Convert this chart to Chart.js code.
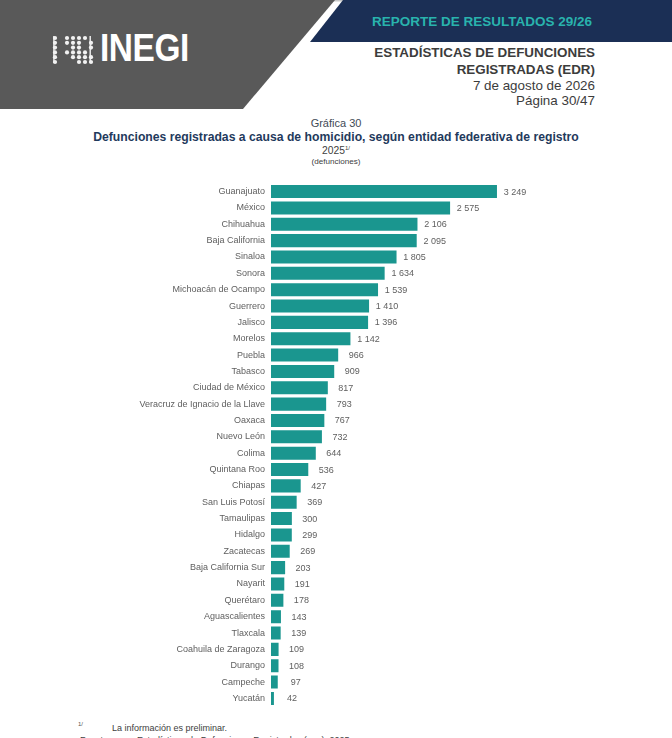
<!DOCTYPE html>
<html lang="es">
<head>
<meta charset="utf-8">
<title>Gráfica 30 - Defunciones por homicidio</title>
<script src="https://cdn.jsdelivr.net/npm/chart.js@4.4.0/dist/chart.umd.min.js"></script>
<style>
  html, body { margin: 0; padding: 0; background: #fff; }
  body { width: 672px; height: 738px; position: relative; overflow: hidden;
         font-family: "Liberation Sans", Arial, sans-serif; }
  .abs { position: absolute; white-space: nowrap; }
  #head-svg { position: absolute; left: 0; top: 0; }
  .right-txt { right: 77px; text-align: right; color: #3c3c3c; font-size: 13.4px; line-height: 16px; }
  .center { left: 0; width: 672px; text-align: center; }
  .sup { font-size: 6px; position: relative; top: -4px; }
  #chartBox { position: absolute; left: 0; top: 172px; width: 672px; height: 546px; }
</style>
</head>
<body>

<!-- page header: grey block, navy banner, logo -->
<svg id="head-svg" width="672" height="112" viewBox="0 0 672 112">
  <rect x="0" y="0" width="672" height="1.5" fill="#c8c8c8"/>
  <polygon points="0,0 335,0 243,109 0,109" fill="#595959"/>
  <polygon points="343,0 672,0 672,42 310,42" fill="#1b2f55"/>
  <g fill="#f2f2f2" id="logo-dots"></g>
</svg>

<div class="abs" style="left:100px; top:27px; font-size:38px; font-weight:bold; color:#fff;
     letter-spacing:-0.5px; transform:scaleX(0.88); transform-origin:left top;">INEGI</div>

<div class="abs" style="left:372px; top:14px; font-size:13.5px; font-weight:bold; color:#29b3ad;">REPORTE DE RESULTADOS 29/26</div>

<div class="abs right-txt" style="top:45px; font-weight:bold;">ESTADÍSTICAS DE DEFUNCIONES</div>
<div class="abs right-txt" style="top:62px; font-weight:bold;">REGISTRADAS (EDR)</div>
<div class="abs right-txt" style="top:78px;">7 de agosto de 2026</div>
<div class="abs right-txt" style="top:93px;">Página 30/47</div>

<!-- chart titles -->
<div class="abs center" style="top:117px; font-size:11px; color:#3f4a56;">Gráfica 30</div>
<div class="abs center" style="top:130px; font-size:12.2px; font-weight:bold; color:#1f3a5c;">Defunciones registradas a causa de homicidio, según entidad federativa de registro</div>
<div class="abs center" style="top:145px; font-size:10.3px; color:#404040;">2025<span class="sup">1/</span></div>
<div class="abs center" style="top:157px; font-size:8.1px; color:#404040;">(defunciones)</div>

<div id="chartBox"><canvas id="homicidioChart" width="672" height="546"></canvas></div>

<!-- footnotes -->
<div class="abs" style="left:78px; top:721px; font-size:6px; color:#555;">1/</div>
<div class="abs" style="left:112px; top:723px; font-size:9px; color:#404040;">La información es preliminar.</div>
<div class="abs" style="left:80px; top:735px; font-size:9px; color:#404040;">Fuente: <span style="font-size:7px;">INEGI</span>. Estadísticas de Defunciones Registradas (<span style="font-size:7px;">EDR</span>), 2025.</div>

<script>
// ---- data ----
const entidades = [
    "Guanajuato", "México", "Chihuahua", "Baja California", "Sinaloa", "Sonora",
    "Michoacán de Ocampo", "Guerrero", "Jalisco", "Morelos", "Puebla", "Tabasco",
    "Ciudad de México", "Veracruz de Ignacio de la Llave", "Oaxaca", "Nuevo León",
    "Colima", "Quintana Roo", "Chiapas", "San Luis Potosí", "Tamaulipas", "Hidalgo",
    "Zacatecas", "Baja California Sur", "Nayarit", "Querétaro", "Aguascalientes",
    "Tlaxcala", "Coahuila de Zaragoza", "Durango", "Campeche", "Yucatán"
];
const defunciones = [
    3249, 2575, 2106, 2095, 1805, 1634,
    1539, 1410, 1396, 1142, 966, 909,
    817, 793, 767, 732,
    644, 536, 427, 369, 300, 299,
    269, 203, 191, 178, 143,
    139, 109, 108, 97, 42
];

const BAR_COLOR = '#1a968f';
const LABEL_COLOR = '#606060';

// little dot-matrix mark next to the INEGI wordmark
(function drawLogoDots() {
    const g = document.getElementById('logo-dots');
    const pattern = [
        "1.1111.",
        "1.111.1",
        "1..11.1",
        "1.1111.",
        "1..1111",
        "1...111"
    ];
    let svg = '';
    pattern.forEach((row, r) => {
        for (let c = 0; c < row.length; c++) {
            if (row[c] === '1') {
                svg += `<circle cx="${55 + c * 6}" cy="${38 + r * 4.8}" r="2.1"/>`;
            }
        }
    });
    svg += '<rect x="53.2" y="36" width="1.4" height="27"/>';
    svg += '<rect x="89.5" y="36" width="1.4" height="27"/>';
    g.innerHTML = svg;
})();

// thousands with a space, as in the INEGI publication
const fmtNum = (v) => String(v).replace(/\B(?=(\d{3})+(?!\d))/g, ' ');

// value labels at the end of each bar
const valueLabels = {
    id: 'valueLabels',
    afterDatasetsDraw(chart) {
        const ctx = chart.ctx;
        const meta = chart.getDatasetMeta(0);
        ctx.save();
        ctx.font = '9px "Liberation Sans", Arial, sans-serif';
        ctx.fillStyle = LABEL_COLOR;
        ctx.textAlign = 'center';
        ctx.textBaseline = 'middle';
        meta.data.forEach((bar, i) => {
            ctx.fillText(fmtNum(defunciones[i]), bar.x + 18, bar.y + 0.5);
        });
        ctx.restore();
    }
};

// note: the y axis adds half a label + tick padding above/below the area,
// so the canvas is a bit taller than the bar block itself
new Chart(document.getElementById('homicidioChart'), {
    type: 'bar',
    data: {
        labels: entidades,
        datasets: [{
            data: defunciones,
            backgroundColor: BAR_COLOR,
            borderWidth: 0,
            barPercentage: 0.8,
            categoryPercentage: 1.0
        }]
    },
    options: {
        indexAxis: 'y',
        responsive: false,
        animation: false,
        layout: { padding: { left: 0, right: 122.8, top: 0, bottom: 0 } },
        plugins: {
            legend: { display: false },
            tooltip: { enabled: false }
        },
        scales: {
            x: { display: false, min: 0, max: 4000 },
            y: {
                grid: { display: false, drawTicks: false },
                border: { display: false },
                ticks: {
                    padding: 6,
                    color: LABEL_COLOR,
                    font: { family: '"Liberation Sans", Arial, sans-serif', size: 9 }
                },
                afterFit: (scale) => { scale.width = 271; }
            }
        }
    },
    plugins: [valueLabels]
});
</script>
</body>
</html>
